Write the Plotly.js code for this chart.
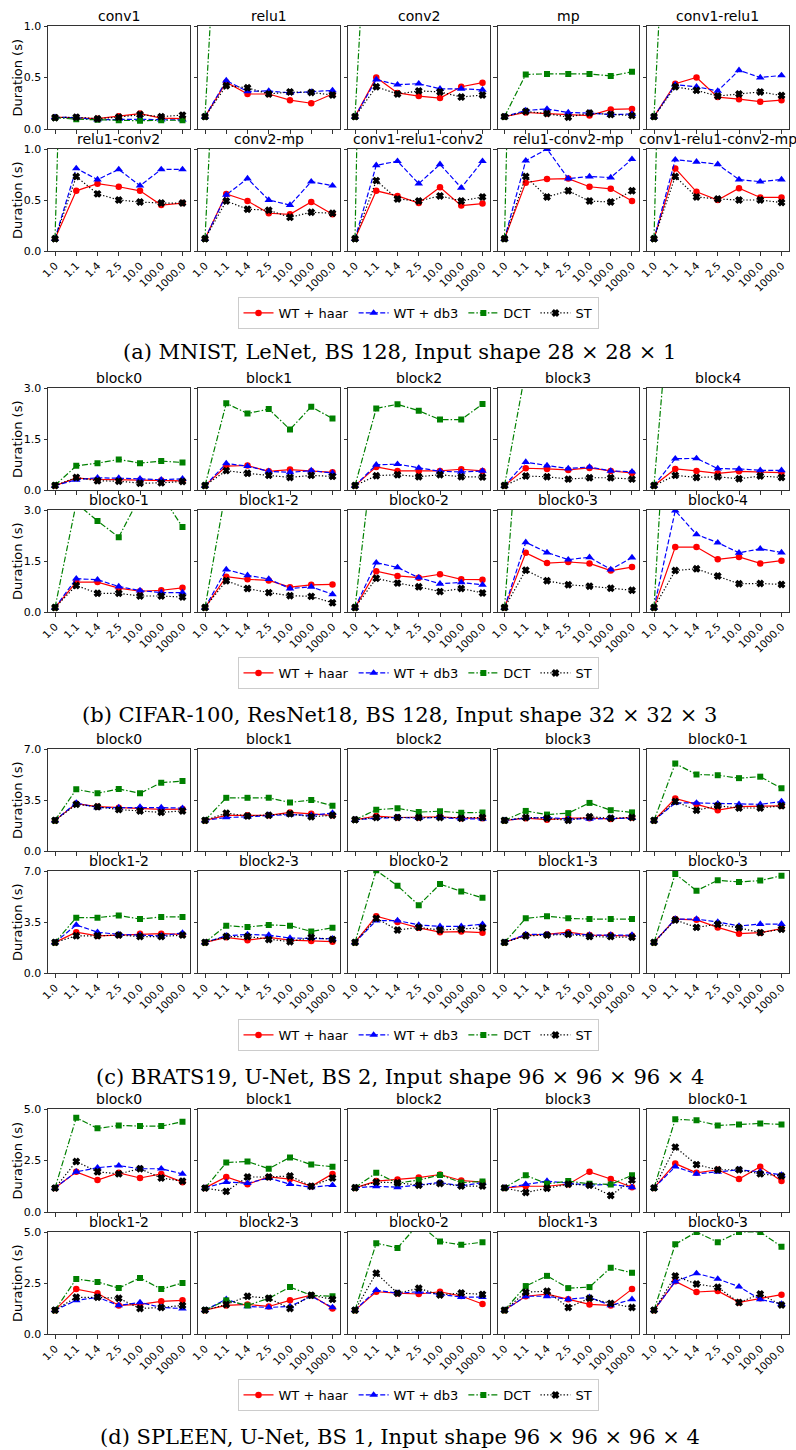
<!DOCTYPE html>
<html>
<head>
<meta charset="utf-8">
<script src="https://cdn.plot.ly/plotly-3.0.1.min.js"></script>
<style>
  html, body { margin: 0; padding: 0; background: #fff; }
  #chart { width: 796px; height: 1450px; }
</style>
</head>
<body>
<div id="chart"></div>
<script>
// ---------- categories / labels ----------
const xCats = ["1.0", "1.1", "1.4", "2.5", "10.0", "100.0", "1000.0"];
const seriesNames = ["WT + haar", "WT + db3", "DCT", "ST"];

const mnistTitles = ["conv1", "relu1", "conv2", "mp", "conv1-relu1",
  "relu1-conv2", "conv2-mp", "conv1-relu1-conv2", "relu1-conv2-mp", "conv1-relu1-conv2-mp"];
const cifarTitles = ["block0", "block1", "block2", "block3", "block4",
  "block0-1", "block1-2", "block0-2", "block0-3", "block0-4"];
const bratsTitles = ["block0", "block1", "block2", "block3", "block0-1",
  "block1-2", "block2-3", "block0-2", "block1-3", "block0-3"];
const spleenTitles = ["block0", "block1", "block2", "block3", "block0-1",
  "block1-2", "block2-3", "block0-2", "block1-3", "block0-3"];

const captions = [
  "(a) MNIST, LeNet, BS 128, Input shape 28 × 28 × 1",
  "(b) CIFAR-100, ResNet18, BS 128, Input shape 32 × 32 × 3",
  "(c) BRATS19, U-Net, BS 2, Input shape 96 × 96 × 96 × 4",
  "(d) SPLEEN, U-Net, BS 1, Input shape 96 × 96 × 96 × 4"
];
const yMax = [1.0, 3.0, 7.0, 5.0];

// ---------- (a) MNIST ----------
const mnistHaar = [
  [0.115, 0.11, 0.10, 0.125, 0.15, 0.105, 0.10],
  [0.12, 0.455, 0.34, 0.34, 0.28, 0.25, 0.34],
  [0.12, 0.50, 0.35, 0.32, 0.30, 0.41, 0.45],
  [0.12, 0.16, 0.15, 0.14, 0.13, 0.19, 0.195],
  [0.12, 0.44, 0.50, 0.31, 0.29, 0.265, 0.28],
  [0.12, 0.59, 0.66, 0.63, 0.59, 0.45, 0.47],
  [0.12, 0.56, 0.49, 0.37, 0.36, 0.48, 0.36],
  [0.12, 0.59, 0.54, 0.47, 0.625, 0.445, 0.465],
  [0.12, 0.67, 0.705, 0.71, 0.63, 0.61, 0.49],
  [0.12, 0.81, 0.58, 0.50, 0.615, 0.525, 0.525]
];
const mnistDb3 = [
  [0.115, 0.11, 0.09, 0.095, 0.095, 0.09, 0.09],
  [0.12, 0.47, 0.365, 0.37, 0.35, 0.36, 0.375],
  [0.12, 0.48, 0.43, 0.44, 0.39, 0.39, 0.38],
  [0.12, 0.18, 0.195, 0.16, 0.155, 0.14, 0.145],
  [0.12, 0.43, 0.41, 0.37, 0.57, 0.50, 0.52],
  [0.12, 0.81, 0.70, 0.80, 0.64, 0.80, 0.80],
  [0.12, 0.55, 0.71, 0.50, 0.45, 0.68, 0.64],
  [0.12, 0.84, 0.88, 0.66, 0.85, 0.62, 0.88],
  [0.12, 0.885, 1.0, 0.71, 0.73, 0.72, 0.90],
  [0.12, 0.895, 0.875, 0.85, 0.70, 0.68, 0.70]
];
const mnistDct = [
  [0.11, 0.095, 0.09, 0.085, 0.08, 0.085, 0.085],
  [0.12, 3.8, 3.7, 3.7, 3.8, 3.7, 3.8],
  [0.12, 3.8, 3.7, 3.8, 3.7, 3.8, 3.8],
  [0.12, 0.53, 0.535, 0.535, 0.535, 0.515, 0.555],
  [0.12, 4.1, 4.0, 4.1, 4.0, 4.1, 4.0],
  [0.12, 7.3, 7.2, 7.3, 7.2, 7.3, 7.3],
  [0.12, 4.4, 4.3, 4.4, 4.3, 4.4, 4.4],
  [0.12, 11.0, 10.8, 11.0, 10.8, 11.0, 11.0],
  [0.12, 9.2, 9.0, 9.2, 9.0, 9.2, 9.2],
  [0.12, 8.2, 8.0, 8.2, 8.0, 8.2, 8.2]
];
const mnistSt = [
  [0.11, 0.115, 0.10, 0.115, 0.14, 0.12, 0.135],
  [0.12, 0.42, 0.40, 0.34, 0.36, 0.355, 0.33],
  [0.12, 0.41, 0.34, 0.37, 0.36, 0.31, 0.33],
  [0.12, 0.17, 0.15, 0.115, 0.155, 0.14, 0.13],
  [0.12, 0.41, 0.375, 0.32, 0.34, 0.36, 0.325],
  [0.12, 0.73, 0.56, 0.50, 0.48, 0.47, 0.47],
  [0.12, 0.49, 0.41, 0.40, 0.33, 0.38, 0.37],
  [0.12, 0.69, 0.51, 0.49, 0.54, 0.49, 0.53],
  [0.12, 0.73, 0.53, 0.59, 0.49, 0.48, 0.59],
  [0.12, 0.73, 0.53, 0.51, 0.50, 0.50, 0.475]
];

// ---------- (b) CIFAR-100 ----------
const cifarHaar = [
  [0.13, 0.35, 0.31, 0.30, 0.29, 0.28, 0.27],
  [0.13, 0.70, 0.72, 0.55, 0.60, 0.55, 0.52],
  [0.13, 0.68, 0.56, 0.56, 0.56, 0.61, 0.56],
  [0.13, 0.64, 0.62, 0.59, 0.65, 0.56, 0.50],
  [0.13, 0.62, 0.56, 0.49, 0.55, 0.52, 0.51],
  [0.13, 0.88, 0.88, 0.70, 0.61, 0.64, 0.71],
  [0.13, 1.04, 0.96, 0.93, 0.73, 0.80, 0.81],
  [0.13, 1.20, 1.06, 1.01, 1.11, 0.96, 0.95],
  [0.13, 1.74, 1.44, 1.47, 1.43, 1.22, 1.32],
  [0.13, 1.91, 1.91, 1.55, 1.62, 1.43, 1.51]
];
const cifarDb3 = [
  [0.13, 0.30, 0.36, 0.35, 0.33, 0.30, 0.33],
  [0.13, 0.78, 0.70, 0.55, 0.52, 0.57, 0.50],
  [0.13, 0.74, 0.76, 0.65, 0.55, 0.53, 0.56],
  [0.13, 0.82, 0.72, 0.63, 0.68, 0.56, 0.54],
  [0.13, 0.92, 0.93, 0.63, 0.62, 0.58, 0.58],
  [0.13, 0.98, 0.95, 0.75, 0.63, 0.57, 0.57],
  [0.13, 1.25, 1.08, 0.97, 0.69, 0.74, 0.52],
  [0.13, 1.45, 1.31, 1.01, 0.83, 0.87, 0.80],
  [0.13, 2.05, 1.75, 1.54, 1.61, 1.25, 1.60],
  [0.13, 2.98, 2.28, 2.04, 1.74, 1.86, 1.75]
];
const cifarDct = [
  [0.14, 0.71, 0.79, 0.90, 0.79, 0.85, 0.81],
  [0.13, 2.55, 2.25, 2.38, 1.78, 2.45, 2.10],
  [0.13, 2.40, 2.52, 2.33, 2.07, 2.07, 2.53],
  [0.13, 3.55, 3.6, 3.5, 3.6, 3.5, 3.6],
  [0.13, 7.5, 7.3, 7.4, 7.3, 7.4, 7.4],
  [0.13, 3.2, 2.68, 2.2, 3.4, 3.45, 2.5],
  [0.13, 3.65, 3.6, 3.7, 3.6, 3.7, 3.6],
  [0.13, 5.5, 5.4, 5.5, 5.4, 5.5, 5.5],
  [0.13, 8.2, 8.0, 8.2, 8.0, 8.2, 8.2],
  [0.13, 10.9, 10.7, 10.9, 10.7, 10.9, 10.9]
];
const cifarSt = [
  [0.13, 0.37, 0.27, 0.26, 0.20, 0.21, 0.25],
  [0.13, 0.57, 0.49, 0.43, 0.37, 0.43, 0.40],
  [0.13, 0.42, 0.45, 0.39, 0.45, 0.39, 0.38],
  [0.13, 0.41, 0.39, 0.32, 0.36, 0.36, 0.32],
  [0.13, 0.43, 0.37, 0.39, 0.33, 0.41, 0.37],
  [0.13, 0.78, 0.55, 0.55, 0.47, 0.47, 0.44],
  [0.13, 0.92, 0.69, 0.57, 0.48, 0.46, 0.27],
  [0.13, 0.99, 0.85, 0.74, 0.60, 0.69, 0.56],
  [0.13, 1.23, 0.92, 0.80, 0.76, 0.70, 0.64],
  [0.13, 1.22, 1.27, 1.06, 0.83, 0.84, 0.81]
];

// ---------- (c) BRATS19 ----------
const bratsHaar = [
  [2.1, 3.25, 3.04, 2.97, 2.9, 2.86, 2.88],
  [2.1, 2.45, 2.45, 2.45, 2.65, 2.55, 2.45],
  [2.14, 2.4, 2.3, 2.3, 2.35, 2.25, 2.25],
  [2.1, 2.25, 2.15, 2.25, 2.25, 2.2, 2.3],
  [2.1, 3.6, 3.2, 2.8, 3.05, 3.05, 3.1],
  [2.1, 2.8, 2.55, 2.6, 2.7, 2.7, 2.65],
  [2.1, 2.45, 2.25, 2.45, 2.25, 2.2, 2.15],
  [2.1, 3.9, 3.5, 3.1, 2.8, 2.84, 2.77],
  [2.1, 2.6, 2.65, 2.8, 2.6, 2.6, 2.55],
  [2.1, 3.7, 3.65, 3.13, 2.7, 2.77, 3.04]
];
const bratsDb3 = [
  [2.1, 3.3, 2.98, 2.98, 3.02, 2.98, 2.94],
  [2.1, 2.3, 2.35, 2.45, 2.5, 2.45, 2.6],
  [2.14, 2.25, 2.3, 2.25, 2.3, 2.2, 2.2],
  [2.1, 2.25, 2.3, 2.2, 2.2, 2.25, 2.25],
  [2.1, 3.3, 3.3, 3.25, 3.2, 3.2, 3.4],
  [2.1, 3.3, 2.8, 2.65, 2.6, 2.55, 2.75],
  [2.1, 2.55, 2.65, 2.6, 2.4, 2.4, 2.35],
  [2.1, 3.6, 3.6, 3.3, 3.2, 3.2, 3.35],
  [2.1, 2.65, 2.65, 2.7, 2.6, 2.6, 2.6],
  [2.1, 3.7, 3.7, 3.5, 3.23, 3.36, 3.36]
];
const bratsDct = [
  [2.1, 4.23, 3.96, 4.26, 3.96, 4.69, 4.8],
  [2.1, 3.65, 3.65, 3.65, 3.33, 3.5, 3.1],
  [2.14, 2.83, 2.93, 2.67, 2.73, 2.62, 2.65],
  [2.1, 2.75, 2.5, 2.6, 3.3, 2.8, 2.65],
  [2.1, 6.0, 5.25, 5.2, 5.0, 5.1, 4.3],
  [2.1, 3.8, 3.8, 3.95, 3.7, 3.85, 3.85],
  [2.1, 3.25, 3.15, 3.3, 3.25, 2.85, 3.1],
  [2.1, 7.05, 5.99, 4.65, 6.1, 5.6, 5.16],
  [2.1, 3.75, 3.9, 3.75, 3.7, 3.7, 3.7],
  [2.1, 6.8, 5.65, 6.36, 6.25, 6.34, 6.68]
];
const bratsSt = [
  [2.1, 3.2, 3.04, 2.84, 2.75, 2.65, 2.75],
  [2.1, 2.6, 2.4, 2.45, 2.55, 2.35, 2.45],
  [2.14, 2.3, 2.3, 2.3, 2.3, 2.25, 2.3],
  [2.1, 2.3, 2.25, 2.1, 2.35, 2.25, 2.3],
  [2.1, 3.4, 2.8, 3.1, 2.95, 2.95, 3.1],
  [2.1, 2.55, 2.55, 2.6, 2.5, 2.5, 2.6],
  [2.1, 2.5, 2.5, 2.3, 2.15, 2.45, 2.3],
  [2.1, 3.75, 2.95, 3.13, 2.95, 3.0, 3.1],
  [2.1, 2.55, 2.6, 2.65, 2.5, 2.5, 2.45],
  [2.1, 3.64, 3.13, 3.35, 3.1, 2.77, 3.0]
];

// ---------- (d) SPLEEN ----------
const spleenHaar = [
  [1.17, 1.95, 1.55, 1.9, 1.65, 1.85, 1.45],
  [1.17, 1.7, 1.35, 1.7, 1.6, 1.25, 1.85],
  [1.17, 1.5, 1.58, 1.67, 1.82, 1.53, 1.45],
  [1.17, 1.25, 1.25, 1.35, 1.95, 1.6, 1.2],
  [1.17, 2.35, 1.9, 2.05, 1.6, 2.2, 1.5],
  [1.17, 2.2, 2.0, 1.4, 1.45, 1.6, 1.65],
  [1.17, 1.4, 1.45, 1.35, 1.65, 1.9, 1.25],
  [1.17, 2.07, 2.0, 1.96, 2.07, 1.86, 1.47],
  [1.17, 1.85, 1.95, 1.7, 1.45, 1.4, 2.2],
  [1.17, 2.58, 2.06, 2.11, 1.55, 1.75, 1.93]
];
const spleenDb3 = [
  [1.17, 1.95, 2.15, 2.25, 2.1, 2.1, 1.85],
  [1.17, 1.45, 1.4, 1.65, 1.35, 1.2, 1.3],
  [1.17, 1.25, 1.2, 1.32, 1.43, 1.27, 1.43],
  [1.17, 1.35, 1.5, 1.4, 1.3, 1.35, 1.2],
  [1.17, 2.2, 1.85, 1.95, 2.05, 1.95, 1.8],
  [1.17, 1.65, 1.8, 1.4, 1.55, 1.3, 1.25],
  [1.17, 1.7, 1.35, 1.3, 1.35, 1.85, 1.3],
  [1.17, 2.15, 2.0, 2.07, 1.94, 1.81, 1.81],
  [1.17, 1.85, 1.85, 1.7, 1.8, 1.4, 1.7],
  [1.17, 2.57, 2.97, 2.7, 2.32, 1.7, 1.47]
];
const spleenDct = [
  [1.16, 4.58, 4.06, 4.2, 4.17, 4.17, 4.38],
  [1.16, 2.4, 2.45, 2.1, 2.65, 2.3, 2.2],
  [1.18, 1.9, 1.4, 1.55, 1.8, 1.43, 1.48],
  [1.17, 1.78, 1.37, 1.5, 1.37, 1.34, 1.78],
  [1.17, 4.5, 4.45, 4.2, 4.25, 4.3, 4.25],
  [1.17, 2.7, 2.55, 2.25, 2.75, 2.2, 2.5],
  [1.17, 1.65, 1.4, 1.75, 2.3, 1.9, 1.85],
  [1.17, 4.45, 4.22, 5.4, 4.53, 4.37, 4.5],
  [1.17, 2.35, 2.85, 2.25, 2.3, 3.25, 3.0],
  [1.17, 4.4, 5.0, 4.5, 5.0, 5.0, 4.28]
];
const spleenSt = [
  [1.16, 2.45, 1.95, 1.85, 2.1, 1.65, 1.5],
  [1.16, 1.0, 1.7, 1.7, 1.75, 1.25, 1.65],
  [1.18, 1.45, 1.42, 1.3, 1.38, 1.26, 1.26],
  [1.17, 0.95, 1.15, 1.35, 1.3, 0.8, 1.55],
  [1.17, 3.15, 2.3, 2.05, 2.05, 1.85, 1.75],
  [1.17, 1.8, 1.8, 1.75, 1.25, 1.3, 1.4],
  [1.17, 1.45, 1.85, 1.75, 1.25, 1.9, 1.7],
  [1.17, 2.98, 2.0, 2.24, 1.91, 2.01, 1.94],
  [1.17, 2.05, 2.1, 1.3, 1.75, 1.5, 1.3],
  [1.17, 2.84, 2.45, 2.29, 1.54, 1.96, 1.42]
];

// ---------- assembly ----------
const groups = [
  { titles: mnistTitles, series: [mnistHaar, mnistDb3, mnistDct, mnistSt] },
  { titles: cifarTitles, series: [cifarHaar, cifarDb3, cifarDct, cifarSt] },
  { titles: bratsTitles, series: [bratsHaar, bratsDb3, bratsDct, bratsSt] },
  { titles: spleenTitles, series: [spleenHaar, spleenDb3, spleenDct, spleenSt] }
];

const W = 796, H = 1450;
const px = v => v / W;
const py = v => 1 - v / H;

// layout geometry (pixels)
const colLeft = [48, 198, 348, 497.5, 647];
const colWidth = 141.5;
const rowBox = [
  [[26, 129], [149, 251]],
  [[388, 490], [510, 612]],
  [[749, 851], [871, 973]],
  [[1109, 1212], [1232, 1334]]
];
const legendTop = [297, 657, 1019, 1379];
const captionY = [352, 715, 1077, 1437];

const styles = [
  { color: "#ff0000", dash: "solid", symbol: "circle", size: 6.5, lw: 0 },
  { color: "#0000ff", dash: "5px,2.2px", symbol: "triangle-up", size: 7.5, lw: 0 },
  { color: "#008000", dash: "6px,2px,1.5px,2px", symbol: "square", size: 6, lw: 0 },
  { color: "#000000", dash: "1.3px,2px", symbol: "x", size: 5.5, lw: 1.2 }
];

const traces = [];
const layout = {
  width: W, height: H,
  margin: { l: 0, r: 0, t: 0, b: 0 },
  paper_bgcolor: "#fff", plot_bgcolor: "#fff",
  font: { family: "DejaVu Sans", color: "#000" },
  annotations: [],
  showlegend: true
};

const fontFam = "DejaVu Sans";
groups.forEach((grp, g) => {
  const legendId = g === 0 ? "legend" : "legend" + (g + 1);
  layout[legendId] = {
    orientation: "h",
    x: px(418), xanchor: "center",
    y: py(legendTop[g]), yanchor: "top",
    bgcolor: "#fff", bordercolor: "#cccccc", borderwidth: 1,
    font: { family: fontFam, size: 13, color: "#000" },
    itemwidth: 30,
    traceorder: "normal"
  };
  layout.annotations.push({
    text: captions[g], xref: "paper", yref: "paper",
    x: px(400), y: py(captionY[g]), xanchor: "center", yanchor: "middle",
    showarrow: false, font: { family: "DejaVu Serif", size: 21, color: "#000" }
  });

  for (let k = 0; k < 10; k++) {
    const row = Math.floor(k / 5), col = k % 5;
    const n = g * 10 + k + 1;
    const xk = n === 1 ? "xaxis" : "xaxis" + n;
    const yk = n === 1 ? "yaxis" : "yaxis" + n;
    const xr = n === 1 ? "x" : "x" + n;
    const yr = n === 1 ? "y" : "y" + n;
    const [top, bot] = rowBox[g][row];
    const x0 = colLeft[col], x1 = colLeft[col] + colWidth;
    const ym = yMax[g];

    layout[xk] = {
      domain: [px(x0), px(x1)], anchor: yr,
      type: "category", categoryorder: "array", categoryarray: xCats,
      range: [-0.33, 6.33],
      showgrid: false, zeroline: false,
      showline: true, mirror: true, linecolor: "#333", linewidth: 1,
      ticks: "outside", ticklen: 3.5, tickwidth: 1, tickcolor: "#333",
      showticklabels: row === 1, tickangle: -45,
      tickfont: { family: fontFam, size: 10.5, color: "#000" },
      fixedrange: true
    };
    layout[yk] = {
      domain: [py(bot), py(top)], anchor: xr,
      range: [0, ym],
      tickvals: [0, ym / 2, ym],
      tickformat: ".1f",
      showgrid: false, zeroline: false,
      showline: true, mirror: true, linecolor: "#333", linewidth: 1,
      ticks: "outside", ticklen: 3.5, tickwidth: 1, tickcolor: "#333",
      showticklabels: col === 0,
      tickfont: { family: fontFam, size: 11, color: "#000" },
      fixedrange: true
    };

    // subplot title
    layout.annotations.push({
      text: grp.titles[k], xref: "paper", yref: "paper",
      x: px((x0 + x1) / 2), y: py(top), xanchor: "center", yanchor: "bottom",
      yshift: 0, showarrow: false,
      font: { family: fontFam, size: 14, color: "#000" }
    });
    // y-axis label
    if (col === 0) {
      layout.annotations.push({
        text: "Duration (s)", xref: "paper", yref: "paper",
        x: px(17), y: py((top + bot) / 2), xanchor: "center", yanchor: "middle",
        textangle: -90, showarrow: false,
        font: { family: fontFam, size: 13, color: "#000" }
      });
    }

    grp.series.forEach((ser, s) => {
      const st = styles[s];
      traces.push({
        type: "scatter", mode: "lines+markers",
        x: xCats, y: ser[k],
        xaxis: xr, yaxis: yr,
        name: seriesNames[s],
        legend: legendId,
        showlegend: k === 0,
        line: { color: st.color, width: 1.2, dash: st.dash },
        marker: { symbol: st.symbol, size: st.size, color: st.color,
                  line: { width: st.lw, color: st.color } },
        cliponaxis: true,
        hoverinfo: "skip"
      });
    });
  }
});

Plotly.newPlot("chart", traces, layout, { displayModeBar: false, staticPlot: true });
</script>
</body>
</html>
